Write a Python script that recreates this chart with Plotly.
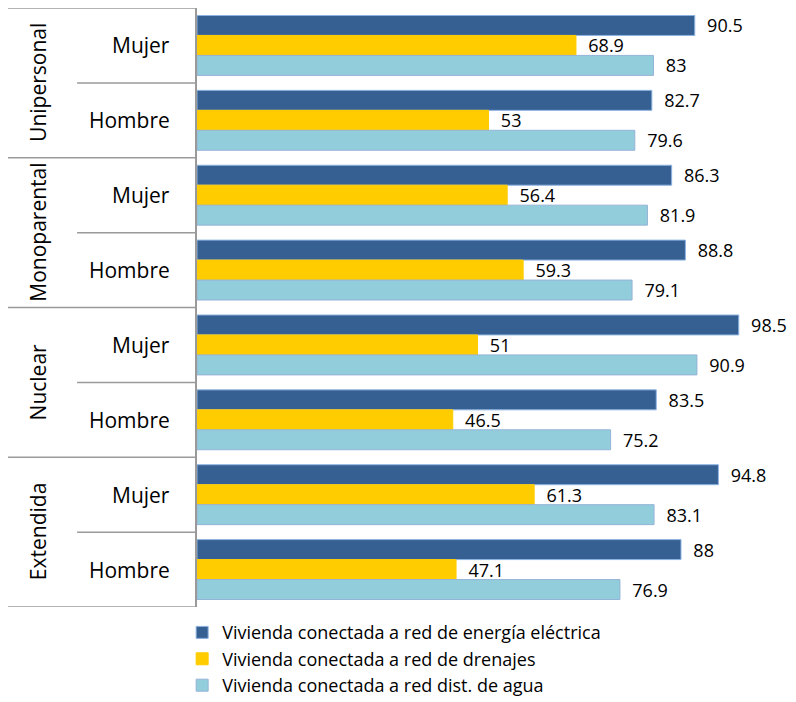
import plotly.graph_objects as go

groups = ["Unipersonal", "Monoparental", "Nuclear", "Extendida"]
sexes = ["Mujer", "Hombre"]
categories = [f"{g}|{s}" for g in groups for s in sexes]

energia = [90.5, 82.7, 86.3, 88.8, 98.5, 83.5, 94.8, 88]
drenajes = [68.9, 53, 56.4, 59.3, 51, 46.5, 61.3, 47.1]
agua = [83, 79.6, 81.9, 79.1, 90.9, 75.2, 83.1, 76.9]

series = [
    ("Vivienda conectada a red de energía eléctrica", energia, "#366092", "#8DB3E2"),
    ("Vivienda conectada a red de drenajes", drenajes, "#FFCC00", "#FFCC00"),
    ("Vivienda conectada a red dist. de agua", agua, "#92CDDC", "#95B3D7"),
]

FONT = "'Open Sans', 'Noto Sans', sans-serif"

fig = go.Figure()
for name, vals, col, lcol in series:
    fig.add_trace(go.Bar(
        y=categories, x=vals, name=name, orientation="h",
        marker=dict(color=col, line=dict(color=lcol, width=1)),
        text=vals, texttemplate="  %{x}", textposition="outside",
        textfont=dict(size=18, color="#000000", family=FONT),
        cliponaxis=False, constraintext="none",
    ))

shapes = []
n = len(categories)
line_style = dict(color="#9A9A9A", width=1.5)
for gi in range(len(groups) + 1):
    yv = gi * 2 - 0.5
    shapes.append(dict(type="line", xref="paper", yref="y", x0=-0.3436, x1=0.0,
                       y0=yv, y1=yv, line=line_style))
for gi in range(len(groups)):
    yv = gi * 2 + 0.5
    shapes.append(dict(type="line", xref="paper", yref="y", x0=-0.218, x1=0.0,
                       y0=yv, y1=yv, line=line_style))

annotations = []
for gi, g in enumerate(groups):
    annotations.append(dict(xref="paper", yref="y", x=-0.289, y=gi * 2 + 0.5,
                            text=g, showarrow=False, textangle=-90,
                            font=dict(size=21, family=FONT, color="#000000"),
                            xanchor="center", yanchor="middle"))
    for si, s in enumerate(sexes):
        annotations.append(dict(xref="paper", yref="y", x=-0.0455, y=gi * 2 + si,
                                text=s, showarrow=False,
                                font=dict(size=21, family=FONT, color="#000000"),
                                xanchor="right", yanchor="middle"))

fig.update_layout(
    width=788, height=694,
    margin=dict(l=189, r=49, t=0, b=95, autoexpand=False),
    barmode="group", bargap=0.2, bargroupgap=0,
    plot_bgcolor="white", paper_bgcolor="white",
    font=dict(family=FONT, size=16, color="#000000"),
    xaxis=dict(range=[0, 100], showticklabels=False, showgrid=False,
               zeroline=False, showline=False, ticks="", automargin=False),
    yaxis=dict(type="category", categoryorder="array", categoryarray=categories,
               range=[n - 0.5, -0.5], showticklabels=False, showgrid=False,
               showline=True, linecolor="#9A9A9A", linewidth=1.5, ticks="",
               automargin=False),
    showlegend=True,
    legend=dict(x=-0.027, y=-0.012, xanchor="left", yanchor="top",
                font=dict(size=18, family=FONT, color="#000000"),
                traceorder="normal", tracegroupgap=0, itemwidth=30),
    shapes=shapes, annotations=annotations,
)

fig.write_html("out.html")
